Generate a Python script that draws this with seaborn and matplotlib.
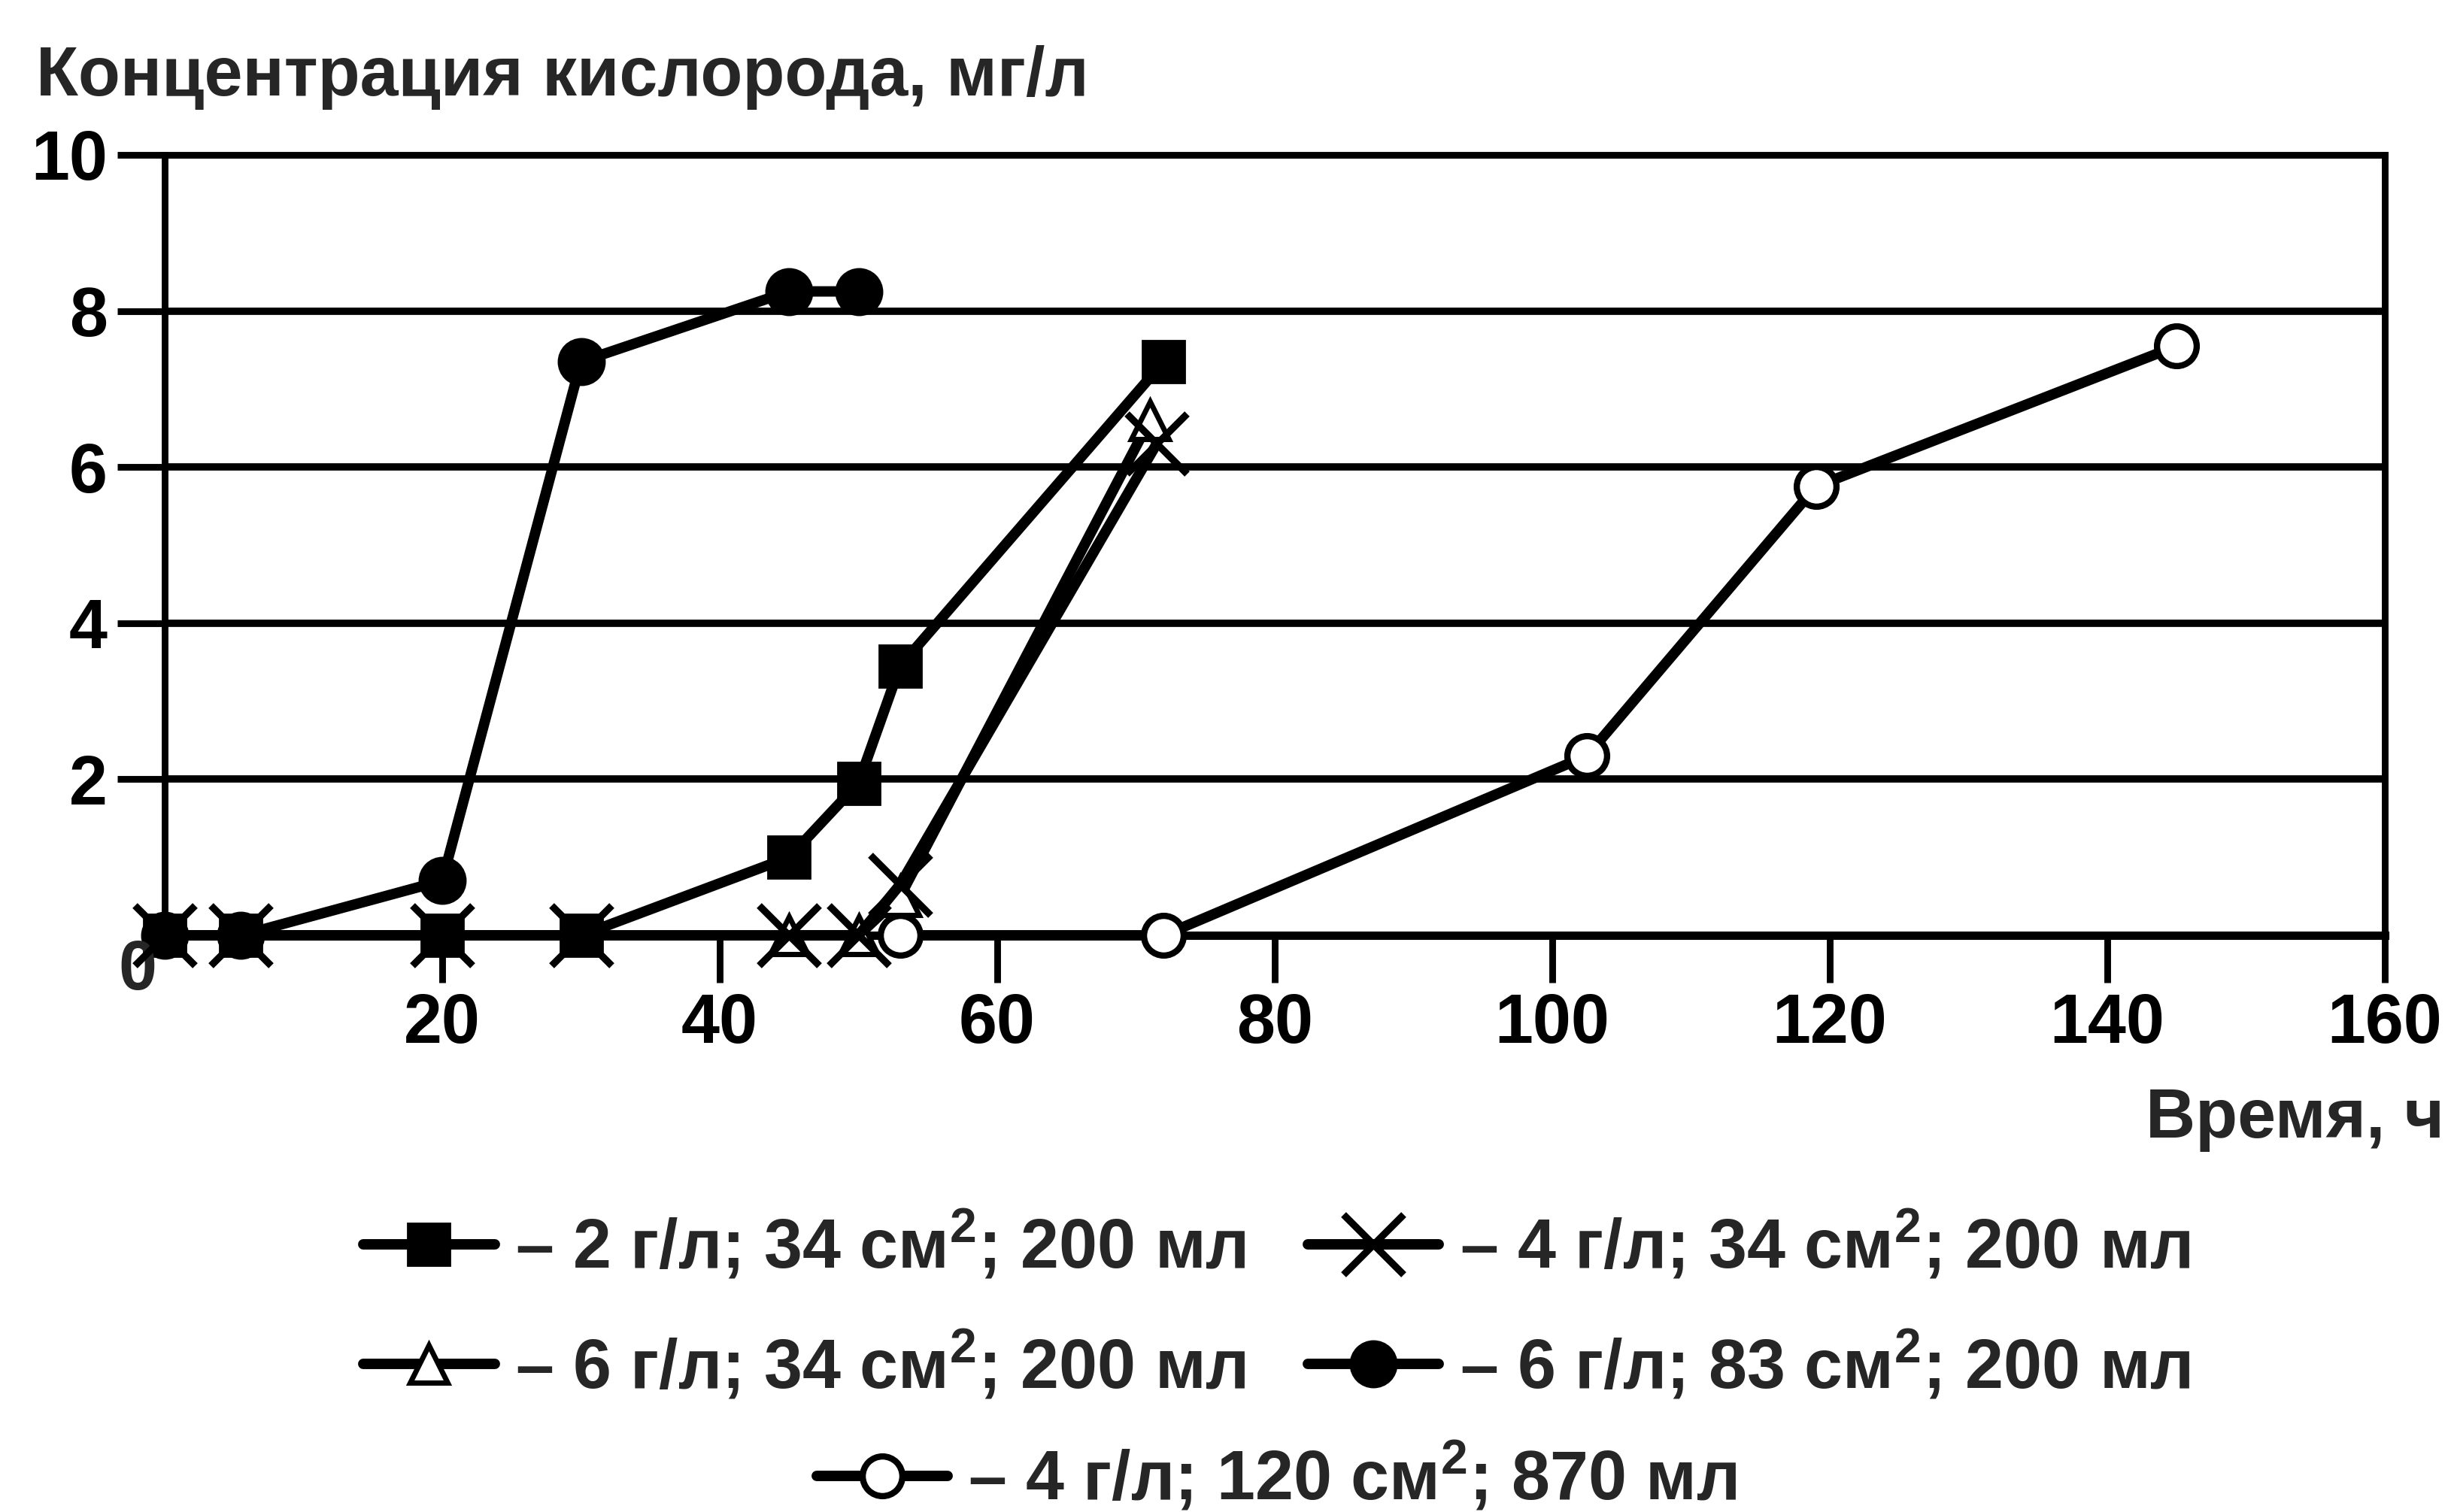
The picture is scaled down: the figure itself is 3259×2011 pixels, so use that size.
import matplotlib
matplotlib.use("Agg")
import matplotlib.pyplot as plt
import seaborn as sns
from matplotlib import font_manager

# values (time, h / oxygen, mg/l)
sq_x = [0, 5.5, 20, 30, 45, 50, 53, 72]
sq_y = [0, 0, 0, 0, 1.0, 1.95, 3.45, 7.35]
x4_x = [0, 5.5, 20, 30, 45, 50, 53, 71.5]
x4_y = [0, 0, 0, 0, 0, 0, 0.65, 6.3]
tr_x = [45, 50, 53, 71]
tr_y = [0, 0, 0.5, 6.6]
fc_x = [0, 5.5, 20, 30, 45, 50]
fc_y = [0, 0, 0.7, 7.35, 8.25, 8.25]
oc_x = [53, 72, 102.5, 119, 145]
oc_y = [0, 0, 2.3, 5.75, 7.55]

labels = {
    "sq": "– 2 г/л; 34 см$^2$; 200 мл",
    "x4": "– 4 г/л; 34 см$^2$; 200 мл",
    "tr": "– 6 г/л; 34 см$^2$; 200 мл",
    "fc": "– 6 г/л; 83 см$^2$; 200 мл",
    "oc": "– 4 г/л; 120 см$^2$; 870 мл",
}
x_ticks = [20, 40, 60, 80, 100, 120, 140, 160]
y_ticks = [2, 4, 6, 8, 10]

sns.set_style("white")

names = {f.name for f in font_manager.fontManager.ttflist}
fam = "Liberation Sans Narrow" if "Liberation Sans Narrow" in names else "Liberation Sans"
plt.rcParams["font.family"] = [fam, "DejaVu Sans"]
plt.rcParams["font.weight"] = "bold"
plt.rcParams["mathtext.fontset"] = "custom"
plt.rcParams["mathtext.rm"] = fam + ":bold"
plt.rcParams["mathtext.it"] = fam + ":bold"
plt.rcParams["mathtext.bf"] = fam + ":bold"
plt.rcParams["mathtext.default"] = "rm"

FS = 33
fig = plt.figure(figsize=(16.295, 10.055), dpi=200)
ax = fig.add_axes([0.0672, 0.3814, 0.9058, 0.5162])

lw = 5
common = dict(ax=ax, color="black", lw=lw, clip_on=False, legend=False, sort=False)

sns.lineplot(x=sq_x, y=sq_y, marker="s", ms=20, mfc="black", mec="black", mew=1, zorder=3, **common)
h_sq = ax.lines[-1]
sns.lineplot(x=fc_x, y=fc_y, marker="o", ms=22, mfc="black", mec="black", mew=1, zorder=3, **common)
h_fc = ax.lines[-1]
sns.lineplot(x=tr_x, y=tr_y, marker="^", ms=18, mfc="white", mec="black", mew=2.5, zorder=4, **common)
h_tr = ax.lines[-1]
sns.lineplot(x=x4_x, y=x4_y, marker="x", ms=29, mec="black", mew=3.4, zorder=5, **common)
h_x4 = ax.lines[-1]
sns.lineplot(x=oc_x, y=oc_y, marker="o", ms=19, mfc="white", mec="black", mew=3, zorder=6, **common)
h_oc = ax.lines[-1]

ax.set_xlim(0, 160)
ax.set_ylim(0, 10)
ax.set_xticks(x_ticks)
ax.set_yticks(y_ticks)
ax.set_xlabel("")
ax.set_ylabel("")
ax.yaxis.grid(True, color="black", lw=3.5)
ax.xaxis.grid(False)
for s in ax.spines.values():
    s.set_visible(True)
    s.set_color("black")
    s.set_linewidth(3.2)
ax.spines["bottom"].set_linewidth(4)
ax.tick_params(direction="out", length=22.7, width=3.2, pad=4.7, labelsize=FS,
               colors="black", bottom=True, left=True)
for t in ax.get_xticklabels() + ax.get_yticklabels():
    t.set_fontweight("bold")

ax.text(-0.6, -0.05, "0", ha="right", va="top", fontsize=FS, clip_on=False)

fig.text(0.0147, 0.9368, "Концентрация кислорода, мг/л", ha="left", va="baseline", fontsize=FS)
fig.text(0.9972, 0.2476, "Время, ч", ha="right", va="baseline", fontsize=FS)

leg_kw = dict(frameon=False, fontsize=FS, handlelength=1.9, handletextpad=0.3,
              columnspacing=0.9, labelspacing=0.67, borderpad=0, borderaxespad=0,
              loc="upper center")
fig.legend([h_sq, h_tr, h_x4, h_fc],
           [labels["sq"], labels["tr"], labels["x4"], labels["fc"]],
           ncol=2, bbox_to_anchor=(0.521, 0.2004), **leg_kw)
fig.legend([h_oc], [labels["oc"]], ncol=1, bbox_to_anchor=(0.521, 0.0473), **leg_kw)

fig.savefig("out.png", dpi=200)
